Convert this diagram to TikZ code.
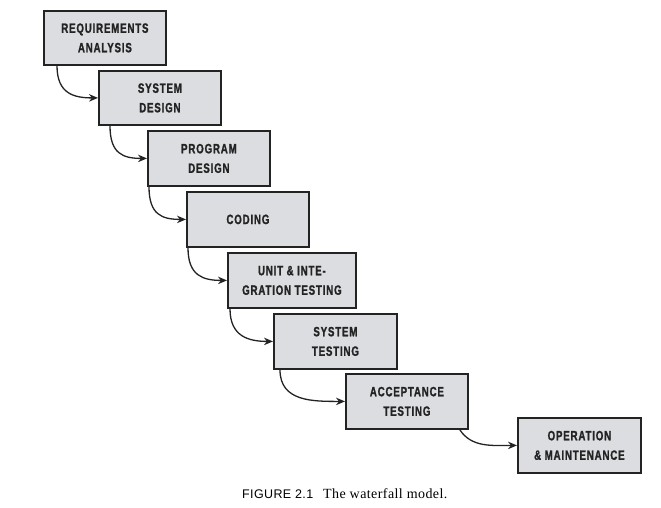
\documentclass[tikz,border=0pt]{standalone}
\usepackage{fontspec}
\setmainfont{Liberation Serif}
\newfontfamily\boxfont[FakeStretch=0.72,FakeBold=1.2,LetterSpace=6]{Liberation Sans Bold}
\newfontfamily\capfont[LetterSpace=3]{Liberation Sans}
\newfontfamily\capserif[LetterSpace=3]{Liberation Serif}
\usetikzlibrary{arrows.meta}
\definecolor{boxgray}{RGB}{220,221,224}
\definecolor{edge}{RGB}{35,35,35}
\tikzset{
  stage/.style={draw=edge, line width=1.8pt, fill=boxgray, anchor=north west, inner sep=0pt,
    align=center, font=\boxfont\fontsize{13.5}{19.5}\selectfont, text=edge},
  flow/.style={draw=edge, line width=1.3pt, -{Stealth[length=9pt,width=7.5pt]}}
}
\begin{document}
\begin{tikzpicture}[x=1pt,y=-1pt]
\useasboundingbox (0,0) rectangle (661,507);
\node[stage, minimum width=122pt, minimum height=54pt] (b1) at (43,10) {REQUIREMENTS\\ANALYSIS};
\node[stage, minimum width=122pt, minimum height=54pt] (b2) at (98,70) {SYSTEM\\DESIGN};
\node[stage, minimum width=122pt, minimum height=55pt] (b3) at (147,130) {PROGRAM\\DESIGN};
\node[stage, minimum width=122pt, minimum height=55pt] (b4) at (186,191) {CODING};
\node[stage, minimum width=128pt, minimum height=55pt] (b5) at (227,252) {UNIT \& INTE-\\GRATION TESTING};
\node[stage, minimum width=123pt, minimum height=55pt] (b6) at (273,313) {SYSTEM\\TESTING};
\node[stage, minimum width=122pt, minimum height=55pt] (b7) at (345,373) {ACCEPTANCE\\TESTING};
\node[stage, minimum width=123pt, minimum height=55pt] (b8) at (517,417) {OPERATION\\\& MAINTENANCE};
\draw[flow] ([xshift=14pt]b1.south west) .. controls +(0,28) and +(-24,0) .. (b2.west);
\draw[flow] ([xshift=12pt]b2.south west) .. controls +(0,28) and +(-24,0) .. (b3.west);
\draw[flow] ([xshift=2pt]b3.south west) .. controls +(0,28) and +(-24,0) .. (b4.west);
\draw[flow] ([xshift=2pt]b4.south west) .. controls +(0,28) and +(-24,0) .. (b5.west);
\draw[flow] ([xshift=3pt]b5.south west) .. controls +(0,28) and +(-24,0) .. (b6.west);
\draw[flow] ([xshift=7pt]b6.south west) .. controls +(0,32) and +(-32,0) .. (b7.west);
\draw[flow] ([xshift=-9pt]b7.south east) .. controls +(12,18) and +(-25,0) .. (b8.west);
\node[anchor=base west, inner sep=0pt, font=\capfont\fontsize{12.5}{14}\selectfont] (cap1) at (242,498) {FIGURE 2.1};
\node[anchor=base west, inner sep=0pt, font=\capserif\fontsize{14}{15}\selectfont] (cap2) at (323,498) {The waterfall model.};
\end{tikzpicture}
\end{document}
